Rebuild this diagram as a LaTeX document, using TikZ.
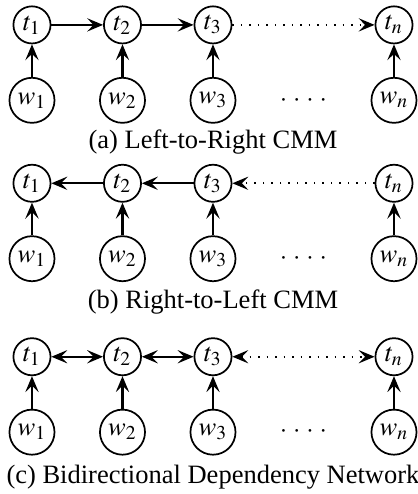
\documentclass[tikz,border=0pt]{standalone}
\usepackage{mathptmx}
\usepackage[no-math]{fontspec}
\setmainfont{Liberation Serif}
\usetikzlibrary{arrows.meta}

\begin{document}
\begin{tikzpicture}[>={Stealth[length=6pt,width=5pt,inset=2.4pt]},
  tag/.style={circle,draw,line width=0.65pt,inner sep=0pt,minimum size=14pt},
  word/.style={circle,draw,line width=0.65pt,inner sep=0pt,minimum size=17pt},
  link/.style={line width=0.8pt},
  far/.style={line width=0.6pt,dash pattern=on 0.6pt off 2.6pt}]
\useasboundingbox (-0.424,0.33) rectangle (5.106,-6.22);
% (a) left to right
\foreach \n/\x in {1/0,2/1.2,3/2.4,n/4.8}
{\node[tag] (ta\n) at (\x,0) {$t_\n$};
 \node[word] (wa\n) at (\x,-1) {$w_\n$};
 \draw[link,->] (wa\n) -- (ta\n);}
\node (dotsa) at (3.6,-1) {${\cdot}\;{\cdot}\;{\cdot}\;{\cdot}$};
\draw[link,->] (ta1) -- (ta2);
\draw[link,->] (ta2) -- (ta3);
\draw[far,->] (ta3) -- (tan);
\node (capa) at (2.4,-1.55) {(a) Left-to-Right CMM};
% (b) right to left
\foreach \n/\x in {1/0,2/1.2,3/2.4,n/4.8}
{\node[tag] (tb\n) at (\x,-2.1) {$t_\n$};
 \node[word] (wb\n) at (\x,-3.1) {$w_\n$};
 \draw[link,->] (wb\n) -- (tb\n);}
\node (dotsb) at (3.6,-3.1) {${\cdot}\;{\cdot}\;{\cdot}\;{\cdot}$};
\draw[link,->] (tb2) -- (tb1);
\draw[link,->] (tb3) -- (tb2);
\draw[far,->] (tbn) -- (tb3);
\node (capb) at (2.4,-3.68) {(b) Right-to-Left CMM};
% (c) both ways
\foreach \n/\x in {1/0,2/1.2,3/2.4,n/4.8}
{\node[tag] (tc\n) at (\x,-4.4) {$t_\n$};
 \node[word] (wc\n) at (\x,-5.4) {$w_\n$};
 \draw[link,->] (wc\n) -- (tc\n);}
\node (dotsc) at (3.6,-5.4) {${\cdot}\;{\cdot}\;{\cdot}\;{\cdot}$};
\draw[link,<->] (tc1) -- (tc2);
\draw[link,<->] (tc2) -- (tc3);
\draw[far,<->] (tc3) -- (tcn);
\node (capc) at (2.4,-6.0) {(c) Bidirectional Dependency Network};
\end{tikzpicture}
\end{document}
